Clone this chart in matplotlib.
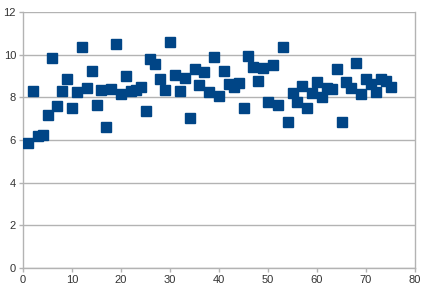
import matplotlib
matplotlib.use("Agg")
import matplotlib.pyplot as plt

# values
x_values = list(range(1, 76))
y_values = [
    5.85, 8.30, 6.20, 6.23, 7.15, 9.83, 7.60, 8.28, 8.86, 7.48,
    8.25, 10.38, 8.45, 9.22, 7.65, 8.34, 6.62, 8.37, 10.50, 8.17,
    9.00, 8.31, 8.34, 8.48, 7.38, 9.80, 9.58, 8.84, 8.34, 10.60,
    9.05, 8.30, 8.92, 7.05, 9.33, 8.60, 9.20, 8.23, 9.88, 8.05,
    9.25, 8.62, 8.50, 8.68, 7.48, 9.92, 9.42, 8.78, 9.36, 7.77,
    9.53, 7.63, 10.35, 6.85, 8.20, 7.77, 8.52, 7.50, 8.20, 8.70,
    8.00, 8.42, 8.39, 9.33, 6.83, 8.72, 8.42, 9.60, 8.16, 8.88,
    8.61, 8.27, 8.86, 8.77, 8.47,
]
x_ticks = [0, 10, 20, 30, 40, 50, 60, 70, 80]
y_ticks = [0, 2, 4, 6, 8, 10, 12]

plt.rcParams["font.family"] = ["Liberation Sans", "DejaVu Sans"]

W, H = 436, 295
fig = plt.figure(figsize=(W / 100, H / 100), dpi=100)
ax = fig.add_axes([23 / W, 1 - 268 / H, (415 - 23) / W, (268 - 12) / H])

ax.plot(x_values, y_values, linestyle="none", marker="s", markersize=7.2,
        color="#004586", markeredgecolor="#004586", zorder=3)

ax.set_xlim(0, 80)
ax.set_ylim(0, 12)
ax.set_xticks(x_ticks)
ax.set_yticks(y_ticks)

grid_col = "#b3b3b3"
ax.yaxis.grid(True, color=grid_col, linewidth=1.0)
ax.set_axisbelow(True)
for side in ["left", "right", "bottom"]:
    ax.spines[side].set_color(grid_col)
    ax.spines[side].set_linewidth(1.0)
ax.spines["top"].set_visible(False)

ax.tick_params(axis="both", colors=grid_col, length=3, width=1.0,
               labelcolor="#333333", labelsize=8, direction="out")
ax.tick_params(axis="x", pad=2)
ax.tick_params(axis="y", pad=2)

fig.savefig("out.png", dpi=100, facecolor="white")
